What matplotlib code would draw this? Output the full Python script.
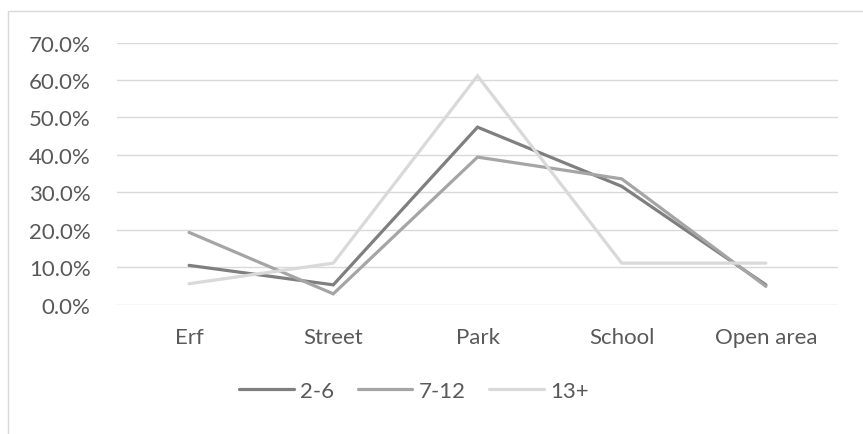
import matplotlib
matplotlib.use("Agg")
import matplotlib.pyplot as plt
from matplotlib.patches import Rectangle
from matplotlib.ticker import FuncFormatter

categories = ["Erf", "Street", "Park", "School", "Open area"]
series_names = ["2-6", "7-12", "13+"]
age_2_6 = [10.5, 5.3, 47.4, 31.6, 5.3]
age_7_12 = [19.3, 2.9, 39.4, 33.6, 4.9]
age_13_plus = [5.6, 11.1, 61.1, 11.1, 11.1]
y_ticks = [0, 10, 20, 30, 40, 50, 60, 70]

series_values = [age_2_6, age_7_12, age_13_plus]
colors = ["#7f7f7f", "#a5a5a5", "#d9d9d9"]
text_color = "#595959"
grid_color = "#d9d9d9"

plt.rcParams["font.family"] = ["Lato", "DejaVu Sans"]

W, H = 863, 435
fig = plt.figure(figsize=(W / 100, H / 100), dpi=100)
fig.patch.set_facecolor("white")

# chart area border
fig.patches.append(Rectangle((8 / W, -0.05), 1.2, 1 - 12 / H + 0.05,
                             transform=fig.transFigure, fill=False,
                             edgecolor=grid_color, linewidth=1.0))

left, right = 117 / W, 838 / W
bottom, top = 1 - 305.7 / H, 1 - 43.5 / H
ax = fig.add_axes([left, bottom, right - left, top - bottom])

x = list(range(len(categories)))
for name, vals, c in zip(series_names, series_values, colors):
    ax.plot(x, vals, color=c, linewidth=2.3, label=name,
            solid_joinstyle="miter", solid_capstyle="round", zorder=3)

ax.set_xlim(-0.5, len(categories) - 0.5)
ax.set_ylim(0, 70)
ax.set_yticks(y_ticks)
ax.yaxis.set_major_formatter(FuncFormatter(lambda v, p: f"{v:.1f}%"))
ax.set_xticks(x)
ax.set_xticklabels(categories)

ax.grid(axis="y", color=grid_color, linewidth=1.0, zorder=0)
ax.set_axisbelow(True)
for s in ax.spines.values():
    s.set_visible(False)
ax.tick_params(axis="both", length=0, colors=text_color, labelsize=16)
ax.tick_params(axis="y", pad=19)
ax.tick_params(axis="x", pad=16)

leg = fig.legend(loc="center", bbox_to_anchor=(414 / W, 1 - 392 / H),
                 ncol=3, frameon=False, fontsize=16, handlelength=2.45,
                 handletextpad=0.3, columnspacing=1.05)
for t in leg.get_texts():
    t.set_color(text_color)

fig.savefig("out.png", dpi=100, facecolor="white")
